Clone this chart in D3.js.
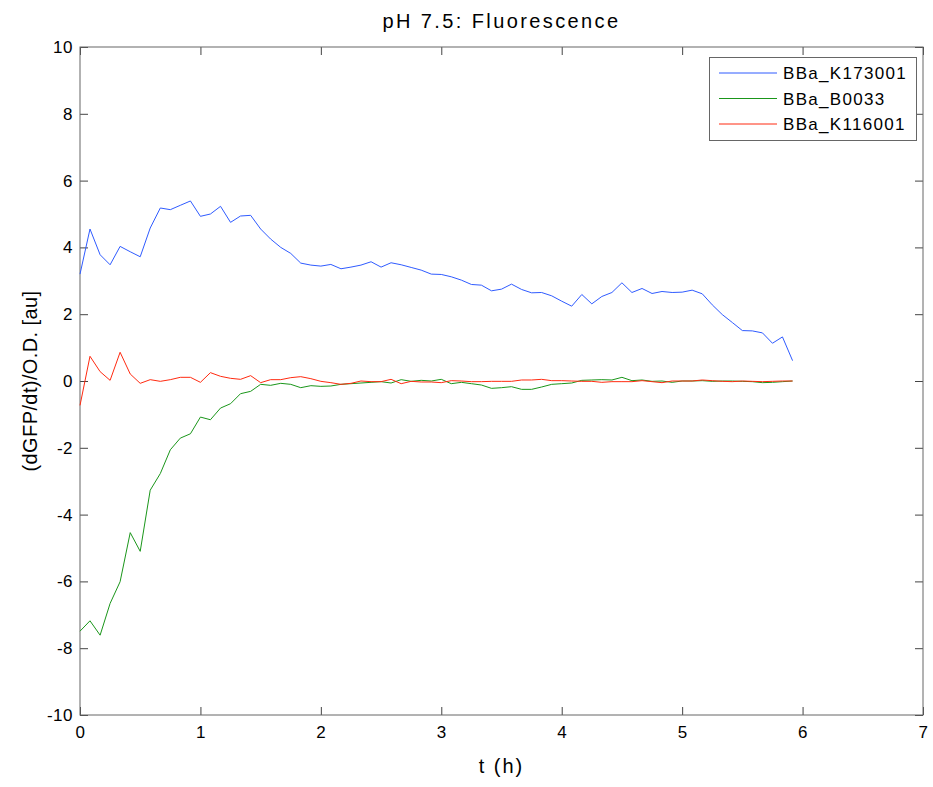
<!DOCTYPE html>
<html>
<head>
<meta charset="utf-8">
<script src="https://cdn.jsdelivr.net/npm/d3@7"></script>
<style>
  body { margin: 0; background: #fff; }
  text { font-family: "Liberation Sans", Arial, Helvetica, sans-serif; fill: #000; }
</style>
</head>
<body>
<svg id="chart" width="933" height="787"></svg>
<script>
// sample times (h), one every 5 minutes
var times = [0, 0.083, 0.167, 0.25, 0.333, 0.417, 0.5, 0.583, 0.667, 0.75, 0.833, 0.917,
  1, 1.083, 1.167, 1.25, 1.333, 1.417, 1.5, 1.583, 1.667, 1.75, 1.833, 1.917,
  2, 2.083, 2.167, 2.25, 2.333, 2.417, 2.5, 2.583, 2.667, 2.75, 2.833, 2.917,
  3, 3.083, 3.167, 3.25, 3.333, 3.417, 3.5, 3.583, 3.667, 3.75, 3.833, 3.917,
  4, 4.083, 4.167, 4.25, 4.333, 4.417, 4.5, 4.583, 4.667, 4.75, 4.833, 4.917,
  5, 5.083, 5.167, 5.25, 5.333, 5.417, 5.5, 5.583, 5.667, 5.75, 5.833, 5.917];

var seriesNames = ["BBa_K173001", "BBa_B0033", "BBa_K116001"];

var k173001 = [3.20, 4.55, 3.78, 3.48, 4.03, 3.87, 3.72, 4.58, 5.18, 5.13, 5.26, 5.39,
  4.93, 5.00, 5.23, 4.75, 4.94, 4.96, 4.55, 4.25, 4.00, 3.82, 3.53, 3.47,
  3.44, 3.49, 3.36, 3.41, 3.47, 3.57, 3.41, 3.54, 3.48, 3.40, 3.32, 3.20,
  3.19, 3.12, 3.02, 2.89, 2.87, 2.70, 2.75, 2.90, 2.74, 2.64, 2.65, 2.55,
  2.39, 2.24, 2.59, 2.31, 2.53, 2.65, 2.94, 2.65, 2.77, 2.62, 2.68, 2.65,
  2.66, 2.72, 2.61, 2.28, 1.99, 1.75, 1.51, 1.50, 1.44, 1.13, 1.32, 0.61];

var b0033 = [-7.49, -7.18, -7.61, -6.66, -6.01, -4.54, -5.10, -3.27, -2.77, -2.06, -1.71, -1.58,
  -1.08, -1.16, -0.81, -0.68, -0.38, -0.31, -0.10, -0.13, -0.07, -0.10, -0.20, -0.14,
  -0.16, -0.15, -0.10, -0.08, -0.06, -0.04, -0.02, -0.06, 0.04, -0.01, 0.02, 0.00,
  0.05, -0.08, -0.04, -0.08, -0.12, -0.22, -0.20, -0.17, -0.25, -0.25, -0.18, -0.10,
  -0.08, -0.06, 0.02, 0.03, 0.04, 0.03, 0.11, 0.01, 0.03, -0.01, 0.00, -0.04,
  0.00, 0.00, 0.01, -0.01, 0.00, 0.00, -0.01, -0.02, -0.05, -0.04, -0.02, 0.00];

var k116001 = [-0.73, 0.74, 0.28, 0.02, 0.86, 0.21, -0.07, 0.04, -0.01, 0.04, 0.11, 0.11,
  -0.04, 0.25, 0.14, 0.08, 0.05, 0.16, -0.05, 0.04, 0.04, 0.10, 0.13, 0.07,
  -0.01, -0.05, -0.10, -0.07, 0.00, -0.02, -0.02, 0.05, -0.08, -0.01, -0.03, -0.03,
  -0.05, 0.01, 0.00, -0.02, -0.02, -0.01, -0.01, -0.01, 0.03, 0.03, 0.05, 0.01,
  0.01, 0.00, -0.01, -0.01, -0.04, -0.02, -0.02, -0.02, 0.01, -0.02, -0.05, 0.00,
  0.00, 0.00, 0.03, 0.01, -0.01, -0.02, 0.00, -0.01, -0.02, -0.01, 0.00, 0.00];

var seriesColors = ["#2f5bff", "#1a961a", "#ff2a10"];

var xDomain = [0, 7];
var yDomain = [-10, 10];

var svg = d3.select("#chart");
var m = {left: 80, right: 923, top: 47, bottom: 715};

var x = d3.scaleLinear().domain(xDomain).range([m.left, m.right]);
var y = d3.scaleLinear().domain(yDomain).range([m.bottom, m.top]);

svg.append("rect").attr("width", 933).attr("height", 787).attr("fill", "#fff");

// plain hyphen for negatives, like the original
var plain = function(d) { return String(d); };

// axes with inward ticks, MATLAB style
function styleAxis(g) {
  g.select(".domain").remove();
  g.selectAll(".tick line").attr("stroke", "#444");
  g.selectAll(".tick text").attr("font-size", 17).attr("fill", "#000")
    .attr("letter-spacing", 0.5)
    .style("font-family", "'Liberation Sans', Arial, sans-serif");
}

svg.append("g").attr("transform", "translate(0," + m.bottom + ")")
  .call(d3.axisBottom(x).ticks(7).tickFormat(plain).tickSizeInner(-8).tickSizeOuter(0).tickPadding(11))
  .call(styleAxis);
svg.append("g").attr("transform", "translate(0," + m.top + ")")
  .call(d3.axisTop(x).ticks(7).tickSizeInner(-8).tickSizeOuter(0).tickFormat(""))
  .call(styleAxis);
svg.append("g").attr("transform", "translate(" + m.left + ",0)")
  .call(d3.axisLeft(y).ticks(10).tickFormat(plain).tickSizeInner(-8).tickSizeOuter(0).tickPadding(7))
  .call(styleAxis);
svg.append("g").attr("transform", "translate(" + m.right + ",0)")
  .call(d3.axisRight(y).ticks(10).tickSizeInner(-8).tickSizeOuter(0).tickFormat(""))
  .call(styleAxis);

svg.append("rect")
  .attr("x", m.left).attr("y", m.top)
  .attr("width", m.right - m.left).attr("height", m.bottom - m.top)
  .attr("fill", "none").attr("stroke", "#666").attr("stroke-width", 1);

// lines
var allSeries = [k173001, b0033, k116001];
var line = d3.line()
  .x(function(d, i) { return x(times[i]); })
  .y(function(d) { return y(d); });

allSeries.forEach(function(s, k) {
  svg.append("path").datum(s)
    .attr("d", line)
    .attr("fill", "none")
    .style("stroke", seriesColors[k])
    .attr("stroke-width", 1);
});

// title and labels
svg.append("text")
  .attr("x", (m.left + m.right) / 2).attr("y", 28)
  .attr("text-anchor", "middle").attr("font-size", 20)
  .attr("letter-spacing", 2.4)
  .text("pH 7.5: Fluorescence");

svg.append("text")
  .attr("x", (m.left + m.right) / 2).attr("y", 773)
  .attr("text-anchor", "middle").attr("font-size", 20)
  .attr("letter-spacing", 2)
  .text("t (h)");

svg.append("text")
  .attr("transform", "translate(37," + ((m.top + m.bottom) / 2) + ") rotate(-90)")
  .attr("text-anchor", "middle").attr("font-size", 20)
  .attr("letter-spacing", 0.4)
  .text("(dGFP/dt)/O.D. [au]");

// legend
var lg = svg.append("g");
lg.append("rect")
  .attr("x", 709.5).attr("y", 57.5).attr("width", 207).attr("height", 83)
  .attr("fill", "#fff").attr("stroke", "#666").attr("stroke-width", 1);

seriesNames.forEach(function(name, k) {
  var ly = 73 + k * 25.5;
  lg.append("line")
    .attr("x1", 719).attr("x2", 777).attr("y1", ly).attr("y2", ly)
    .style("stroke", seriesColors[k]).attr("stroke-width", 1);
  lg.append("text")
    .attr("x", 783).attr("y", ly + 6)
    .attr("font-size", 17).attr("letter-spacing", 1.3)
    .text(name);
});
</script>
</body>
</html>
